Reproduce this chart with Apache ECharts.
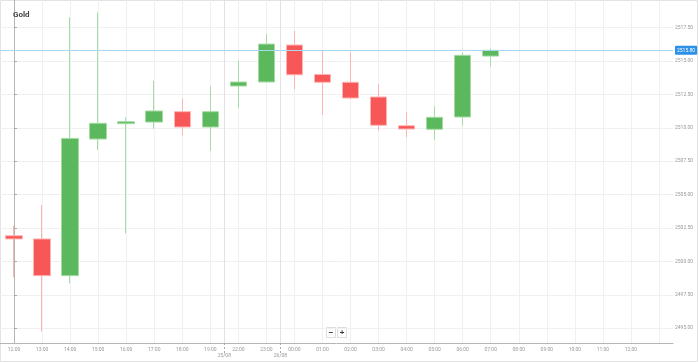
<!DOCTYPE html>
<html>
<head>
<meta charset="utf-8">
<script src="https://cdn.jsdelivr.net/npm/echarts@6/dist/echarts.min.js"></script>
<style>
html,body{margin:0;padding:0;background:#fff;}
#chart{width:699px;height:362px;}
</style>
</head>
<body>
<div id="chart"></div>
<script>
const categories = ['12:00','13:00','14:00','15:00','16:00','17:00','18:00','19:00','22:00','23:00','00:00','01:00','02:00','03:00','04:00','05:00','06:00','07:00','08:00','09:00','10:00','11:00','12:00','13:00'];
const openV  = [2501.92,2501.68,2498.93,2509.16,2510.31,2510.43,2511.21,2510.06,2513.13,2513.43,2516.20,2514.00,2513.41,2512.31,2510.16,2509.89,2510.81,2515.37];
const closeV = [2501.68,2498.93,2509.21,2510.34,2510.46,2511.26,2510.06,2511.21,2513.43,2516.27,2513.97,2513.41,2512.23,2510.19,2509.91,2510.79,2515.43,2515.80];
const lowV   = [2498.81,2494.74,2498.36,2508.34,2502.10,2509.93,2509.44,2508.29,2511.50,2513.43,2512.88,2510.96,2512.13,2509.78,2509.29,2509.09,2510.16,2514.57];
const highV  = [2502.67,2504.22,2518.27,2518.64,2510.79,2513.53,2512.21,2513.13,2515.02,2517.02,2517.27,2515.77,2515.67,2513.28,2511.20,2511.61,2515.65,2515.95];
const yTicks = [2495,2497.5,2500,2502.5,2505,2507.5,2510,2512.5,2515,2517.5];
const yMin = 2493.89, yMax = 2519.57;
const currentPrice = 2515.80;
const dayStarts = ['22:00','00:00'];
const dayLabels = ['25/08','26/08'];

const ohlc = openV.map((o,i)=>[o, closeV[i], lowV[i], highV[i]]);
const dayBreaks = dayStarts.map(s => categories.indexOf(s) - 0.5);

const chart = echarts.init(document.getElementById('chart'));
chart.setOption({
  animation:false,
  backgroundColor:'#fff',
  title:{text:'Gold',left:8,top:6,textStyle:{fontSize:8,fontWeight:'bold',color:'#444',fontFamily:'Roboto'}},
  grid:{left:0,right:26,top:0,bottom:19},
  xAxis:[{
    type:'category',
    data:categories,
    boundaryGap:true,
    axisLine:{show:true,lineStyle:{color:'#b5b5b5',width:1}},
    axisTick:{show:false},
    axisLabel:{fontSize:5,color:'#999',margin:4,fontFamily:'Roboto',interval:(i)=>i<categories.length-1},
    splitLine:{show:true,alignWithLabel:true,interval:0,lineStyle:{color:'#f0f0f0',width:1}}
  },{
    type:'value',
    position:'bottom',
    min:-0.5, max:categories.length-0.5,
    axisLine:{show:false},
    axisTick:{show:true,customValues:dayBreaks,length:12,inside:false,lineStyle:{color:'#aaa',type:[2,2],width:1}},
    axisLabel:{show:true,customValues:dayBreaks,fontSize:5,color:'#999',margin:10,fontFamily:'Roboto',
      formatter:(v)=>{const k=dayBreaks.indexOf(v);return k>=0?dayLabels[k]:'';}},
    splitLine:{show:true,lineStyle:{color:'#e2e2e2',width:1}}
  }],
  yAxis:{
    type:'value',
    position:'right',
    min:yMin,max:yMax,
    axisLine:{show:true,lineStyle:{color:'#b5b5b5',width:1}},
    axisTick:{show:true,customValues:yTicks,length:3,lineStyle:{color:'#aaa'}},
    axisLabel:{customValues:yTicks,fontSize:5,color:'#999',margin:2,fontFamily:'Roboto',formatter:(v)=>v.toFixed(2)},
    splitLine:{show:true,lineStyle:{color:'#f0f0f0',width:1}}
  },
  series:[{
    type:'candlestick',
    data:ohlc,
    barWidth:17,
    itemStyle:{
      color:'#5cb85c',borderColor:'#a6dca6',
      color0:'#f85757',borderColor0:'#ffb4b4',
      borderWidth:1
    },
    markLine:{
      silent:true,
      symbol:['none','none'],
      lineStyle:{color:'#a9d6f2',width:1,type:'solid'},
      label:{show:true,position:'end',distance:2,formatter:()=>currentPrice.toFixed(2),
        backgroundColor:'#2b90e6',color:'#fff',fontSize:5,padding:[2,2],borderRadius:1,fontFamily:'Roboto'},
      data:[{yAxis:currentPrice}]
    }
  }],
  graphic:[
    {type:'rect',shape:{x:0.5,y:0.5,width:697,height:361},style:{fill:'none',stroke:'#e3e3e3',lineWidth:1},silent:true},
    {type:'rect',shape:{x:326.5,y:327.5,width:9,height:10},style:{fill:'#fff',stroke:'#ddd',lineWidth:1}},
    {type:'rect',shape:{x:337.5,y:327.5,width:9,height:10},style:{fill:'#fff',stroke:'#ddd',lineWidth:1}},
    {type:'text',x:331,y:332.5,style:{text:'−',fontSize:8,fontWeight:'bold',fill:'#333',align:'center',verticalAlign:'middle'}},
    {type:'text',x:342,y:332.5,style:{text:'+',fontSize:8,fontWeight:'bold',fill:'#333',align:'center',verticalAlign:'middle'}}
  ]
});
</script>
</body>
</html>
